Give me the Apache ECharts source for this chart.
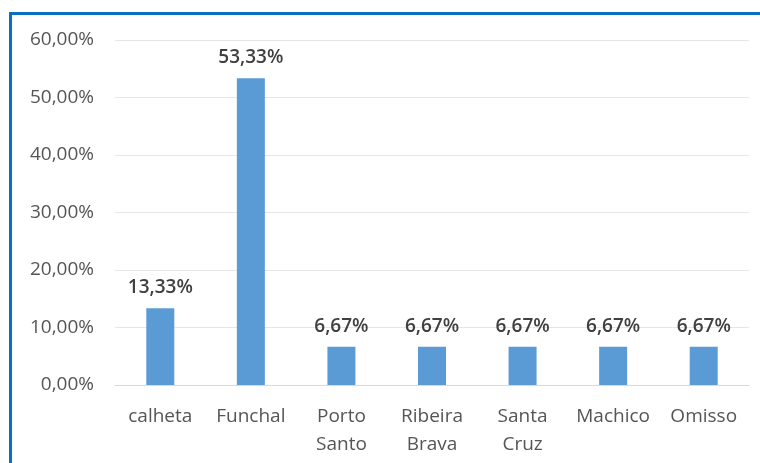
<!DOCTYPE html>
<html>
<head>
<meta charset="utf-8">
<script src="https://cdn.jsdelivr.net/npm/echarts@6/dist/echarts.min.js"></script>
<style>
  html, body { margin: 0; padding: 0; background: #ffffff; }
  #wrap { position: relative; width: 760px; height: 463px; overflow: hidden; background: #ffffff; }
  #frame { position: absolute; left: 9px; top: 12px; width: 800px; height: 500px;
           border-left: 3px solid #0a6fc2; border-top: 3px solid #0a6fc2; box-sizing: border-box; }
  #chart { position: absolute; left: 0; top: 0; width: 760px; height: 463px; }
</style>
</head>
<body>
<div id="wrap">
  <div id="frame"></div>
  <div id="chart"></div>
</div>
<script>
// Municipalities and their share of responses (%)
const categories = ['calheta', 'Funchal', 'Porto\nSanto', 'Ribeira\nBrava', 'Santa\nCruz', 'Machico', 'Omisso'];
const shares = [13.33, 53.33, 6.67, 6.67, 6.67, 6.67, 6.67];
const yTicks = [0, 10, 20, 30, 40, 50, 60];

const fmt = v => v.toFixed(2).replace('.', ',') + '%';
const FONT = '"Open Sans", Lato, sans-serif';

const chart = echarts.init(document.getElementById('chart'), null, { renderer: 'canvas' });
chart.setOption({
  backgroundColor: 'transparent',
  animation: false,
  grid: { left: 115, right: 11, top: 40, bottom: 78, containLabel: false },
  xAxis: {
    type: 'category',
    data: categories,
    axisLine: { show: true, lineStyle: { color: '#d9d9d9', width: 1 } },
    axisTick: { show: false },
    axisLabel: {
      color: '#555555', fontSize: 19, fontWeight: 500, fontFamily: FONT,
      margin: 18, lineHeight: 28, interval: 0
    }
  },
  yAxis: {
    type: 'value',
    min: yTicks[0],
    max: yTicks[yTicks.length - 1],
    interval: 10,
    axisLine: { show: false },
    axisTick: { show: false },
    splitLine: { lineStyle: { color: '#e6e6e6', width: 1 } },
    axisLabel: {
      color: '#555555', fontSize: 19, fontWeight: 500, fontFamily: FONT, margin: 21,
      formatter: v => fmt(v)
    }
  },
  series: [{
    type: 'bar',
    data: shares,
    barWidth: 28,
    itemStyle: { color: '#5b9bd5' },
    label: {
      show: true, position: 'top', distance: 11,
      color: '#404040', fontSize: 19, fontWeight: 600, fontFamily: FONT,
      formatter: p => fmt(p.value)
    }
  }]
});
</script>
</body>
</html>
